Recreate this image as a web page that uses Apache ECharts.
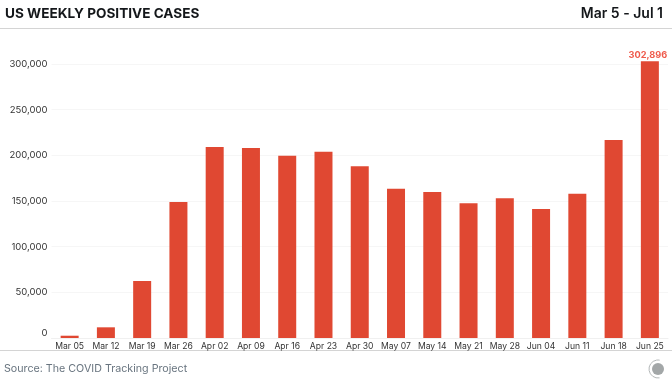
<!doctype html>
<html>
    <head>
        <meta charset="utf-8">
        <title>US Weekly Positive Cases</title>
        <style>
            html, body { margin: 0; padding: 0; background: #fff; }
            #main { width: 672px; height: 388px; }
        </style>
    </head>
    <body>
        <div id="main"></div>
        <script src="https://cdn.jsdelivr.net/npm/echarts@6/dist/echarts.min.js"></script>
        <script>

var weeks = ['Mar 05', 'Mar 12', 'Mar 19', 'Mar 26', 'Apr 02', 'Apr 09', 'Apr 16', 'Apr 23', 'Apr 30',
    'May 07', 'May 14', 'May 21', 'May 28', 'Jun 04', 'Jun 11', 'Jun 18', 'Jun 25'];
var cases = [2500, 11700, 62400, 148900, 209100, 208000, 199600, 204000, 188000,
    163500, 159900, 147500, 153000, 141200, 158000, 216800, 302896];

var font = 'Inter';
var chart = echarts.init(document.getElementById('main'));

chart.setOption({
    animation: false,
    backgroundColor: '#fff',
    textStyle: { fontFamily: font },
    title: [
        { text: 'US WEEKLY POSITIVE CASES', left: 5, top: 7, padding: 0,
          textStyle: { fontFamily: font, fontSize: 13.6, fontWeight: 700, color: '#14171a' } },
        { text: 'Mar 5 - Jul 1', right: 9, top: 7, padding: 0,
          textStyle: { fontFamily: font, fontSize: 14, fontWeight: 600, color: '#14171a' } },
        { text: 'Source: The COVID Tracking Project', left: 4, top: 363, padding: 0,
          textStyle: { fontFamily: font, fontSize: 10.7, fontWeight: 400, color: '#68747f' } }
    ],
    grid: { left: 51.5, right: 4, top: 64, bottom: 50 },
    xAxis: {
        type: 'category',
        data: weeks,
        axisTick: { show: false },
        axisLine: { lineStyle: { color: '#f0f0f0' } },
        axisLabel: { interval: 0, fontSize: 8.6, color: '#333', margin: 4, fontFamily: font }
    },
    yAxis: {
        type: 'value',
        min: 0,
        max: 300000,
        interval: 50000,
        axisLine: { show: false },
        axisTick: { show: false },
        splitLine: { lineStyle: { color: '#f6f6f6' } },
        axisLabel: {
            fontSize: 9.5,
            color: '#333',
            margin: 4,
            fontFamily: font,
            verticalAlignMinLabel: 'bottom',
            formatter: function (v) { return v.toLocaleString('en-US'); }
        }
    },
    series: [{
        type: 'bar',
        data: cases,
        barWidth: 18,
        clip: false,
        itemStyle: { color: '#e04832' },
        label: {
            show: true,
            position: 'top',
            distance: 2,
            offset: [-2, 0],
            fontSize: 9.2,
            fontWeight: 700,
            color: '#ef5a4b',
            fontFamily: font,
            formatter: function (p) {
                return p.dataIndex === cases.length - 1 ? p.value.toLocaleString('en-US') : '';
            }
        }
    }],
    graphic: [
        { type: 'line', shape: { x1: 0, y1: 28.5, x2: 672, y2: 28.5 }, style: { stroke: '#d4d4d4', lineWidth: 1 } },
        { type: 'line', shape: { x1: 0, y1: 350.5, x2: 672, y2: 350.5 }, style: { stroke: '#d4d4d4', lineWidth: 1 } },
        { type: 'circle', shape: { cx: 658, cy: 369, r: 6 }, style: { fill: '#a3a7a8' } },
        { type: 'arc', shape: { cx: 658, cy: 369, r: 9, startAngle: 1.4, endAngle: 4.9 },
          style: { stroke: '#b4b8b9', lineWidth: 1, fill: null } }
    ]
});
        </script>
    </body>
</html>
